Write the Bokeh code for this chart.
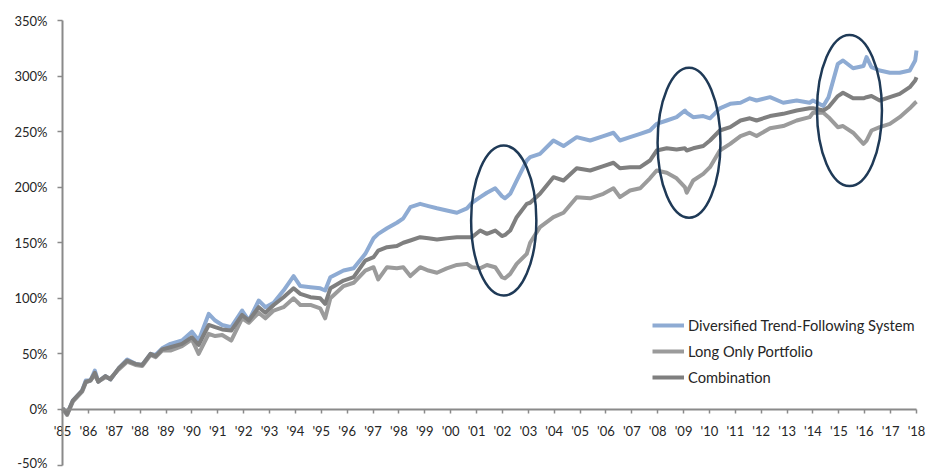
from bokeh.plotting import figure
from bokeh.models import Range1d, FixedTicker, Legend
from bokeh.embed import file_html
from bokeh.resources import INLINE

# ---- data ----
years = [1985.00, 1985.18, 1985.40, 1985.76, 1985.90, 1986.08, 1986.25, 1986.38, 1986.66, 1986.85,
         1987.17, 1987.50, 1987.82, 1988.08, 1988.40, 1988.60, 1988.85, 1989.17, 1989.62, 1990.00,
         1990.26, 1990.65, 1990.90, 1991.17, 1991.52, 1991.94, 1992.20, 1992.58, 1992.84, 1993.16,
         1993.54, 1993.93, 1994.19, 1994.58, 1994.96, 1995.15, 1995.35, 1995.86, 1996.25, 1996.70,
         1997.02, 1997.20, 1997.54, 1997.92, 1998.17, 1998.44, 1998.82, 1999.14, 1999.47, 1999.85,
         2000.24, 2000.63, 2000.82, 2001.14, 2001.40, 2001.72, 2001.98, 2002.10, 2002.30, 2002.55,
         2002.94, 2003.07, 2003.45, 2003.97, 2004.36, 2004.87, 2005.39, 2005.90, 2006.29, 2006.54,
         2006.93, 2007.32, 2007.70, 2007.96, 2008.35, 2008.73, 2009.05, 2009.12, 2009.37, 2009.76,
         2010.02, 2010.40, 2010.80, 2011.20, 2011.56, 2011.82, 2012.34, 2012.85, 2013.37, 2013.87,
         2014.00, 2014.40, 2014.60, 2014.96, 2015.16, 2015.55, 2015.95, 2016.07, 2016.26, 2016.58,
         2016.97, 2017.35, 2017.74, 2017.95, 2018.00]

trend_following = [1, -4, 8, 17, 26, 26, 35, 25, 30, 27,
                   37, 45, 41, 40, 50, 49, 55, 59, 62, 70,
                   62, 86, 80, 76, 74, 89, 80, 98, 92, 96,
                   107, 120, 111, 110, 109, 107, 119, 125, 127, 140,
                   154, 158, 163, 168, 172, 182, 185, 183, 181, 179,
                   177, 181, 186, 191, 195, 199, 192, 190, 194, 206,
                   224, 227, 230, 242, 237, 245, 242, 246, 249, 242,
                   245, 248, 251, 257, 260, 263, 269, 267, 263, 264,
                   262, 271, 275, 276, 280, 278, 281, 276, 278, 276,
                   278, 273, 281, 311, 314, 307, 309, 317, 308, 305,
                   303, 303, 305, 314, 323]

long_only = [1, -5, 7, 16, 24, 26, 31, 25, 29, 28,
             36, 43, 40, 39, 49, 47, 53, 53, 57, 63,
             50, 68, 66, 67, 62, 82, 78, 87, 82, 89,
             92, 100, 94, 94, 91, 82, 100, 111, 114, 125,
             128, 117, 128, 127, 128, 120, 128, 125, 123, 127,
             130, 131, 128, 127, 130, 128, 119, 118, 122, 131,
             140, 150, 164, 173, 177, 191, 190, 194, 199, 191,
             197, 199, 208, 215, 213, 208, 200, 195, 206, 212,
             218, 233, 239, 246, 249, 246, 253, 255, 260, 263,
             267, 267, 263, 254, 255, 249, 239, 242, 251, 254,
             257, 263, 271, 276, 277]

combination = [1, -4, 8, 17, 25, 26, 33, 25, 30, 27,
               37, 44, 41, 40, 50, 48, 54, 56, 59, 65,
               58, 76, 74, 72, 71, 85, 80, 92, 87, 94,
               101, 109, 104, 101, 100, 95, 109, 116, 119, 134,
               137, 143, 146, 147, 150, 152, 155, 154, 153, 154,
               155, 155, 155, 161, 158, 161, 156, 157, 161, 173,
               185, 186, 194, 209, 206, 217, 215, 219, 222, 217,
               218, 218, 224, 233, 235, 234, 235, 233, 235, 237,
               242, 251, 254, 260, 262, 260, 264, 266, 269, 271,
               271, 269, 272, 282, 285, 280, 280, 281, 282, 278,
               281, 284, 290, 296, 299]

series_names = ["Diversified Trend-Following System", "Long Only Portfolio", "Combination"]

x_ticks = list(range(1985, 2019))
x_tick_labels = ["'85", "'86", "'87", "'88", "'89", "'90", "'91", "'92", "'93", "'94", "'95",
                 "'96", "'97", "'98", "'99", "'00", "'01", "'02", "'03", "'04", "'05", "'06",
                 "'07", "'08", "'09", "'10", "'11", "'12", "'13", "'14", "'15", "'16", "'17", "'18"]
y_ticks = [-50, 0, 50, 100, 150, 200, 250, 300, 350]
y_tick_labels = ["-50%", "0%", "50%", "100%", "150%", "200%", "250%", "300%", "350%"]

# ---- layout: the frame fills the figure, axes are pinned at data positions ----
W, H = 926, 470
X0_PX, X1_PX = 62.0, 916.0       # px of 1985 and 2018
Y350_PX, YM50_PX = 20.0, 464.5   # px (from top) of 350% and -50%
sx = (X1_PX - X0_PX) / 33.0
sy = (YM50_PX - Y350_PX) / 400.0
x_start = 1985 - X0_PX / sx
x_end = 2018 + (W - X1_PX) / sx
y_end = 350 + Y350_PX / sy
y_start = -50 - (H - YM50_PX) / sy

FONT = "Lato"
TEXT = "#262626"
AXIS = "#8a8a8a"

p = figure(width=W, height=H, x_range=Range1d(x_start, x_end), y_range=Range1d(y_start, y_end),
           output_backend="svg", toolbar_location=None,
           min_border_left=0, min_border_right=0, min_border_top=0, min_border_bottom=0)
p.grid.visible = False
p.outline_line_color = None
p.background_fill_color = "white"
p.border_fill_color = "white"

xa = p.xaxis[0]
xa.fixed_location = 0
xa.bounds = (1985, 2018)
xa.ticker = FixedTicker(ticks=x_ticks)
xa.major_label_overrides = {t: l for t, l in zip(x_ticks, x_tick_labels)}
xa.axis_line_color = AXIS
xa.axis_line_width = 2
xa.major_tick_line_color = AXIS
xa.major_tick_line_width = 1.5
xa.major_tick_in = 0
xa.major_tick_out = 4
xa.minor_tick_line_color = None
xa.major_label_standoff = 10
xa.major_label_text_font = FONT
xa.major_label_text_font_size = "13px"
xa.major_label_text_color = TEXT

ya = p.yaxis[0]
ya.fixed_location = 1985
ya.bounds = (-50, 350)
ya.ticker = FixedTicker(ticks=y_ticks)
ya.major_label_overrides = {t: l for t, l in zip(y_ticks, y_tick_labels)}
ya.axis_line_color = AXIS
ya.axis_line_width = 2
ya.major_tick_line_color = AXIS
ya.major_tick_line_width = 1.5
ya.major_tick_in = 0
ya.major_tick_out = 5
ya.minor_tick_line_color = None
ya.major_label_standoff = 10
ya.major_label_text_font = FONT
ya.major_label_text_font_size = "13px"
ya.major_label_text_color = TEXT

colors = ["#8eabd3", "#9b9b9b", "#7f7f7f"]
items = []
for vals, name, col in zip([trend_following, long_only, combination], series_names, colors):
    r = p.line(years, vals, line_color=col, line_width=4, line_join="round")
    items.append((name, [r]))

# highlight ellipses (annotation positions)
p.ellipse(x=[2002.05, 2009.21, 2015.41], y=[170, 240, 269],
          width=[2.52, 2.43, 2.51], height=[135, 135, 136],
          fill_color=None, line_color="#1f3a57", line_width=2.5)

legend = Legend(items=items, location=(652, 83))
legend.border_line_color = None
legend.background_fill_alpha = 0
legend.padding = 0
legend.margin = 0
legend.spacing = 6
legend.glyph_width = 32
legend.glyph_height = 20
legend.label_height = 20
legend.label_standoff = 4
legend.label_text_font = FONT
legend.label_text_font_size = "14.7px"
legend.label_text_color = TEXT
p.add_layout(legend, "center")

open("out.html", "w").write(file_html(p, INLINE))
